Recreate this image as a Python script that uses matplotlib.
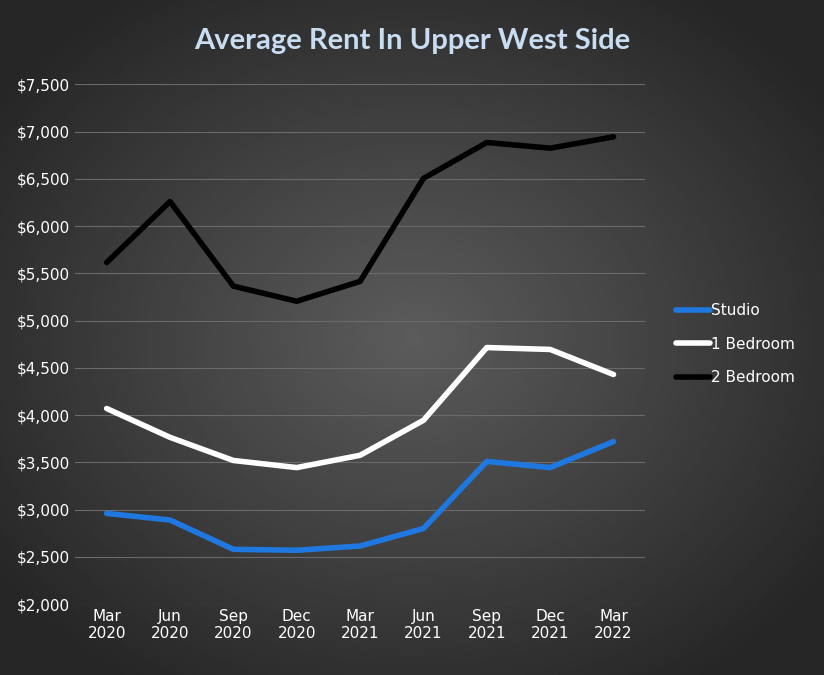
import numpy as np
import matplotlib
matplotlib.use("Agg")
import matplotlib.pyplot as plt
from matplotlib.ticker import FuncFormatter

categories = ["Mar\n2020", "Jun\n2020", "Sep\n2020", "Dec\n2020", "Mar\n2021", "Jun\n2021", "Sep\n2021", "Dec\n2021", "Mar\n2022"]
studio = [2960, 2890, 2580, 2570, 2615, 2800, 3510, 3445, 3720]
one_bed = [4070, 3765, 3520, 3445, 3575, 3945, 4715, 4695, 4430]
two_bed = [5615, 6260, 5365, 5205, 5415, 6505, 6885, 6825, 6945]

fig = plt.figure(figsize=(8.24, 6.75), dpi=100)
bg = fig.add_axes([0, 0, 1, 1], zorder=-10)
yy, xx = np.mgrid[-1:1:400j, -1:1:400j]
r = np.sqrt(xx**2 + yy**2)
bg.imshow(np.clip(0.36 - 0.17 * r, 0.15, 0.4), cmap="gray", vmin=0, vmax=1, aspect="auto", extent=[0, 1, 0, 1])
bg.axis("off")

ax = fig.add_axes([0.091, 0.105, 0.692, 0.77])
ax.patch.set_alpha(0)
x = np.arange(len(categories))
ax.plot(x, studio, color="#1f78e0", lw=4, label="Studio", solid_capstyle="round")
ax.plot(x, one_bed, color="white", lw=4, label="1 Bedroom", solid_capstyle="round")
ax.plot(x, two_bed, color="black", lw=4, label="2 Bedroom", solid_capstyle="round")
ax.set_ylim(2000, 7500)
ax.set_yticks(range(2000, 7501, 500))
ax.yaxis.set_major_formatter(FuncFormatter(lambda v, p: f"${v:,.0f}"))
ax.set_xlim(-0.5, 8.5)
ax.set_xticks(x)
ax.set_xticklabels(categories)
ax.grid(axis="y", color="#6a6a6a", lw=0.8)
ax.set_axisbelow(True)
for s in ax.spines.values():
    s.set_visible(False)
ax.tick_params(length=0, colors="white", labelsize=11)
for t in ax.get_xticklabels() + ax.get_yticklabels():
    t.set_color("white")
leg = ax.legend(loc="center left", bbox_to_anchor=(1.03, 0.5), frameon=False, fontsize=11,
                labelcolor="white", handlelength=2.2, handletextpad=0.1, labelspacing=1.2)
fig.text(0.5, 0.94, "Average Rent In Upper West Side", ha="center", va="center",
         fontsize=21, fontweight="bold", color="#c9ddf2", family="Lato")
fig.savefig("out.png", dpi=100)
